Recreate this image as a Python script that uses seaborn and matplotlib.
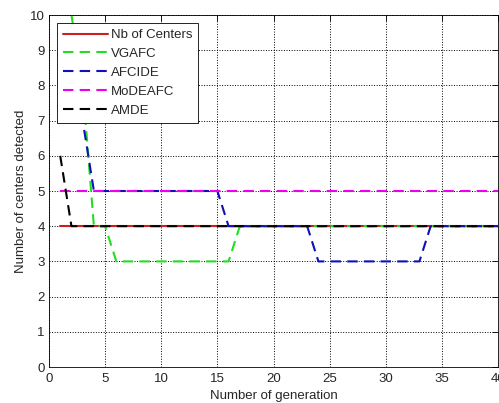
import matplotlib
matplotlib.use("Agg")
import matplotlib.pyplot as plt
import seaborn as sns

# Data (generation -> number of centers detected)
gen_nb = [1, 40]
nb_centers = [4, 4]

gen_vgafc = [1, 2, 3, 4, 5, 6, 16, 17, 40]
vgafc = [12, 10, 8, 4, 4, 3, 3, 4, 4]

gen_afcide = [1, 2, 3, 4, 15, 16, 23, 24, 33, 34, 40]
afcide = [9, 8, 7, 5, 5, 4, 4, 3, 3, 4, 4]

gen_modeafc = [1, 40]
modeafc = [5, 5]

gen_amde = [1, 2, 40]
amde = [6, 4, 4]

labels = ["Nb of Centers", "VGAFC", "AFCIDE", "MoDEAFC", "AMDE"]
colors = ["#cc2020", "#22dd22", "#1010b8", "#ee00ee", "#000000"]

sns.set_theme(style="white")
plt.rcParams["font.family"] = ["Liberation Sans", "DejaVu Sans"]

fig = plt.figure(figsize=(4.99, 4.03), dpi=100)
ax = fig.add_axes([49 / 499, 1 - 367 / 403, 449 / 499, 352 / 403])

series = [(gen_nb, nb_centers), (gen_vgafc, vgafc), (gen_afcide, afcide),
          (gen_modeafc, modeafc), (gen_amde, amde)]
for i, (xs, ys) in enumerate(series):
    sns.lineplot(x=xs, y=ys, color=colors[i], label=labels[i], lw=1.5, ax=ax)
for i, ln in enumerate(ax.get_lines()):
    if i > 0:
        ln.set_dashes((5, 3))

ax.set_xlim(0, 40)
ax.set_ylim(0, 10)
ax.set_xticks(range(0, 41, 5))
ax.set_yticks(range(0, 11))
ax.grid(True, linestyle=":", color="black", lw=0.7)
ax.tick_params(direction="in", length=4, top=True, right=True, labelsize=9.5,
               color="black", width=0.6)
ax.tick_params(axis="x", pad=4)
ax.tick_params(axis="y", pad=3)
for s in ax.spines.values():
    s.set_color("black")
    s.set_linewidth(0.6)
ax.set_xlabel("Number of generation", fontsize=9.5, labelpad=4)
ax.set_ylabel("Number of centers detected", fontsize=9.5, labelpad=2)

leg = ax.legend(loc="upper left", bbox_to_anchor=(0.018, 0.977), borderaxespad=0,
                fancybox=False, edgecolor="black", framealpha=1, fontsize=9.5,
                handlelength=3.4, handletextpad=0.2, labelspacing=0.5,
                borderpad=0.45)
leg.get_frame().set_linewidth(0.6)
for h in leg.get_lines():
    h.set_linewidth(1.5)

fig.savefig("out.png", dpi=100)
